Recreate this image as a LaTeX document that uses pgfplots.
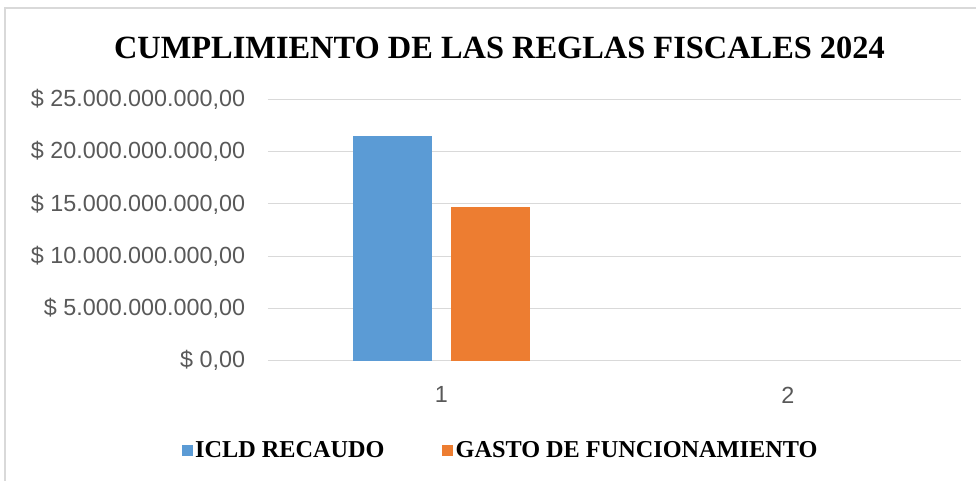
\documentclass[border=0pt]{standalone}
\usepackage{pgfplots}
\pgfplotsset{compat=1.18}
\usepackage{fontspec}
\setmainfont{Liberation Sans}
\newfontfamily\tnr{Liberation Serif}
\definecolor{cblue}{HTML}{5B9BD5}
\definecolor{corange}{HTML}{ED7D31}
\definecolor{cgrid}{HTML}{D9D9D9}
\definecolor{ctick}{HTML}{595959}
\begin{document}
\begin{tikzpicture}
\useasboundingbox (0,0) rectangle (732pt,-360.75pt);
\fill[white] (0,0) rectangle (732pt,-360.75pt);
\draw[cgrid, line width=1.1pt] (3.75pt,-6pt) rectangle (745pt,-372pt);
\begin{axis}[
  at={(201pt,-270.5pt)}, anchor=south west,
  scale only axis, width=519.75pt, height=196pt,
  ybar=14.6pt, bar width=59.25pt,
  xmin=0.5, xmax=2.5, ymin=0, ymax=25e9,
  scaled y ticks=false,
  xtick={1,2}, xticklabels={1,2},
  ytick={0,5e9,10e9,15e9,20e9,25e9},
  yticklabels={{\$ 0,00},{\$ 5.000.000.000,00},{\$ 10.000.000.000,00},{\$ 15.000.000.000,00},{\$ 20.000.000.000,00},{\$ 25.000.000.000,00}},
  ymajorgrids, grid style={cgrid, line width=0.9pt},
  axis line style={draw=none}, major tick length=0pt, tick style={draw=none},
  ticklabel style={font=\fontsize{17.5}{20}\selectfont, text=ctick},
  yticklabel style={inner sep=0pt, anchor=east, xshift=-17pt},
  xticklabel style={inner sep=0pt, anchor=north, yshift=-19.5pt},
  title={CUMPLIMIENTO DE LAS REGLAS FISCALES 2024},
  title style={at={(0.334,1.125)}, anchor=base, yshift=0pt, font=\tnr\bfseries\fontsize{24.3}{28}\selectfont, inner sep=0pt},
  legend columns=2,
  legend cell align=left,
  legend style={at={(0.336,-0.342)}, anchor=center, draw=none, fill=none,
    font=\tnr\bfseries\fontsize{18.2}{22}\selectfont, inner sep=0pt,
    /tikz/every even column/.append style={column sep=41pt}},
  legend image code/.code={\fill[#1] (0pt,-4.1pt) rectangle (8.25pt,4.1pt);},
  clip=false,
]
\addplot[fill=cblue, draw=none] coordinates {(1,21.49e9)};
\addplot[fill=corange, draw=none] coordinates {(1,14.70e9)};
\legend{ICLD RECAUDO, GASTO DE FUNCIONAMIENTO}
\end{axis}
\end{tikzpicture}
\end{document}
